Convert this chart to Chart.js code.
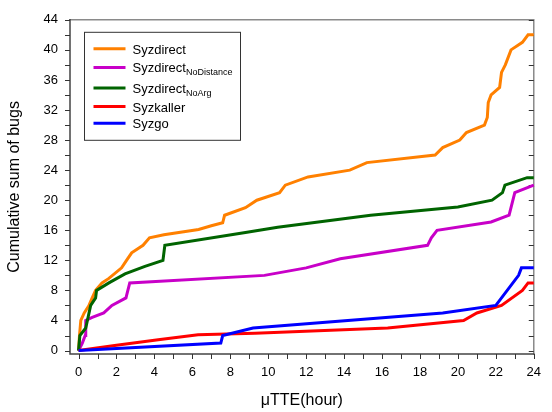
<!DOCTYPE html>
<html>
<head>
<meta charset="utf-8">
<script src="https://cdn.jsdelivr.net/npm/chart.js@4.4.0/dist/chart.umd.min.js"></script>
<style>
    html, body { margin: 0; padding: 0; background: #ffffff; }
    #wrap { width: 552px; height: 412px; }
</style>
</head>
<body>
<div id="wrap"><canvas id="bugChart" width="552" height="412"></canvas></div>
<script>
// ===== Cumulative bugs over time =====

// Series names (with subscript part kept apart)
var seriesNames = ['Syzdirect', 'Syzdirect', 'Syzdirect', 'Syzkaller', 'Syzgo'];
var seriesSubs = ['', 'NoDistance', 'NoArg', '', ''];
var seriesColors = ['#FF8000', '#C800C8', '#006400', '#FF0000', '#0000FF'];

// Time (hours) / cumulative bugs
var syzdirectX = [0, 0.05, 0.12, 0.3, 0.55, 0.72, 0.9, 1.24, 1.6, 2.27, 2.53, 2.8, 3.4, 3.74, 4.5, 6.33, 7.0, 7.6, 7.7, 8.8, 9.4, 10.6, 10.9, 12.1, 14.3, 15.2, 18.8, 19.2, 20.1, 20.45, 21.4, 21.55, 21.6, 21.75, 22.2, 22.3, 22.5, 22.8, 23.4, 23.7, 24];
var syzdirectY = [0, 2, 4, 5, 6, 7, 8, 9, 9.6, 11, 12, 13, 14, 15, 15.4, 16.1, 16.6, 17, 18, 19, 20, 21, 22, 23.1, 24, 25, 26, 27, 28, 29, 30, 31, 33, 34, 35, 37, 38, 40, 41, 42, 42];

var noDistanceX = [0, 0.2, 0.35, 0.38, 0.72, 1.33, 1.76, 2.5, 2.7, 9.8, 12, 13.8, 18.4, 18.6, 18.9, 21.75, 22.7, 23, 24];
var noDistanceY = [0, 1, 2, 4, 4.4, 5, 6, 7, 9, 10, 11, 12.2, 14, 15, 16, 17.1, 18, 21, 22];

var noArgX = [0, 0.07, 0.38, 0.64, 0.9, 0.95, 1.6, 2.45, 3.5, 4.45, 4.55, 8.8, 10.5, 15.4, 20, 21.8, 22.35, 22.48, 23.65, 24];
var noArgY = [0, 2, 3, 6, 7, 8, 9, 10.2, 11.2, 12, 14, 15.7, 16.4, 18, 19.1, 20, 21, 22, 23, 23];

var syzkallerX = [0, 2, 4.2, 6.3, 9.3, 16.3, 20.3, 21, 22.3, 23.4, 23.7, 24];
var syzkallerY = [0, 0.7, 1.45, 2.1, 2.3, 3, 4, 5, 6, 8, 9, 9];

var syzgoX = [0, 7.5, 7.6, 9.2, 19.2, 22, 22.3, 23.2, 23.35, 24];
var syzgoY = [0, 1, 2, 3, 5, 6, 7, 10, 11, 11];

// Tick values
var xTickValues = [0, 2, 4, 6, 8, 10, 12, 14, 16, 18, 20, 22, 24];
var yTickValues = [0, 4, 8, 12, 16, 20, 24, 28, 32, 36, 40, 44];

(function() {
    'use strict';

    var allX = [syzdirectX, noDistanceX, noArgX, syzkallerX, syzgoX];
    var allY = [syzdirectY, noDistanceY, noArgY, syzkallerY, syzgoY];
    var fontFamily = "'Liberation Sans', Arial, sans-serif";

    function toPoints(xs, ys) {
        return xs.map(function(x, i) { return { x: x, y: ys[i] }; });
    }

    var datasets = seriesNames.map(function(name, i) {
        return {
            label: name + seriesSubs[i],
            data: toPoints(allX[i], allY[i]),
            borderColor: seriesColors[i],
            backgroundColor: seriesColors[i],
            borderWidth: 3,
            pointRadius: 0,
            tension: 0,
            fill: false,
            clip: false,
            order: seriesNames.length - i
        };
    });

    // Axis frame and tick marks, drawn from the scales
    var framePlugin = {
        id: 'frame',
        beforeDatasetsDraw: function(chart) {
            var ctx = chart.ctx;
            var a = chart.chartArea;
            var xs = chart.scales.x;
            var ys = chart.scales.y;
            ctx.save();
            ctx.lineCap = 'square';

            // top and right in gray
            ctx.strokeStyle = '#8a8a8a';
            ctx.lineWidth = 1.5;
            ctx.beginPath();
            ctx.moveTo(a.left, a.top);
            ctx.lineTo(a.right, a.top);
            ctx.lineTo(a.right, a.bottom);
            ctx.stroke();

            // left and bottom axes
            ctx.strokeStyle = '#444444';
            ctx.beginPath();
            ctx.moveTo(a.left, a.top);
            ctx.lineTo(a.left, a.bottom);
            ctx.lineTo(a.right, a.bottom);
            ctx.stroke();

            ctx.lineWidth = 1;
            ctx.lineCap = 'butt';
            ctx.strokeStyle = '#333333';
            ctx.beginPath();
            for (var v = 0; v <= 44; v += 2) {
                var py = Math.round(ys.getPixelForValue(v)) + 0.5;
                ctx.moveTo(a.left - 5, py);
                ctx.lineTo(a.left, py);
                ctx.moveTo(a.right - 5, py);
                ctx.lineTo(a.right, py);
            }
            for (var h = 0; h <= 24; h += 1) {
                var px = Math.round(xs.getPixelForValue(h)) + 0.5;
                ctx.moveTo(px, a.bottom);
                ctx.lineTo(px, a.bottom + 5);
            }
            ctx.stroke();
            ctx.restore();
        }
    };

    // Legend box with subscripts
    var legendPlugin = {
        id: 'subLegend',
        afterDraw: function(chart) {
            var ctx = chart.ctx;
            var a = chart.chartArea;
            var boxX = a.left + 14.5;
            var boxY = a.top + 12.5;
            var boxW = 156;
            var boxH = 108;
            ctx.save();
            ctx.fillStyle = '#ffffff';
            ctx.fillRect(boxX, boxY, boxW, boxH);
            ctx.strokeStyle = '#333333';
            ctx.lineWidth = 1;
            ctx.strokeRect(boxX, boxY, boxW, boxH);

            var y = boxY + 16.5;
            chart.data.datasets.forEach(function(ds, i) {
                ctx.strokeStyle = ds.borderColor;
                ctx.lineWidth = 3;
                ctx.beginPath();
                ctx.moveTo(boxX + 9, y);
                ctx.lineTo(boxX + 41, y);
                ctx.stroke();

                ctx.fillStyle = '#000000';
                ctx.textBaseline = 'alphabetic';
                ctx.font = '13px ' + fontFamily;
                var base = y + 5;
                ctx.fillText(seriesNames[i], boxX + 48, base);
                if (seriesSubs[i]) {
                    var w = ctx.measureText(seriesNames[i]).width;
                    ctx.font = '9px ' + fontFamily;
                    ctx.fillText(seriesSubs[i], boxX + 48 + w, base + 3);
                }
                if (i < seriesNames.length - 1) {
                    y += 16.7 + (seriesSubs[i] ? 1.9 : 0) + (seriesSubs[i + 1] ? 1.9 : 0);
                }
            });
            ctx.restore();
        }
    };

    var canvas = document.getElementById('bugChart');
    new Chart(canvas.getContext('2d'), {
        type: 'line',
        data: { datasets: datasets },
        options: {
            responsive: false,
            animation: false,
            layout: { padding: { top: 14, right: 9, left: 0, bottom: 0 } },
            plugins: {
                legend: { display: false },
                tooltip: { enabled: false }
            },
            scales: {
                x: {
                    type: 'linear',
                    min: -0.45,
                    max: 24,
                    grid: { display: false, drawTicks: false },
                    border: { display: false },
                    afterBuildTicks: function(scale) {
                        scale.ticks = xTickValues.map(function(v) { return { value: v }; });
                    },
                    afterFit: function(scale) { scale.height = 58; },
                    ticks: {
                        color: '#000000',
                        padding: 11,
                        maxRotation: 0,
                        autoSkip: false,
                        font: { size: 13, family: fontFamily }
                    },
                    title: {
                        display: true,
                        text: 'μTTE(hour)',
                        color: '#000000',
                        padding: { top: 0, bottom: 3 },
                        font: { size: 16, family: fontFamily, lineHeight: 1 }
                    }
                },
                y: {
                    type: 'linear',
                    min: -0.46,
                    max: 44,
                    grid: { display: false, drawTicks: false },
                    border: { display: false },
                    afterBuildTicks: function(scale) {
                        scale.ticks = yTickValues.map(function(v) { return { value: v }; });
                    },
                    afterFit: function(scale) { scale.width = 70; },
                    ticks: {
                        color: '#000000',
                        padding: 12,
                        autoSkip: false,
                        font: { size: 13, family: fontFamily }
                    },
                    title: {
                        display: true,
                        text: 'Cumulative sum of bugs',
                        color: '#000000',
                        padding: { top: 7, bottom: 0 },
                        font: { size: 16, family: fontFamily, lineHeight: 1 }
                    }
                }
            }
        },
        plugins: [framePlugin, legendPlugin]
    });
})();
</script>
</body>
</html>
